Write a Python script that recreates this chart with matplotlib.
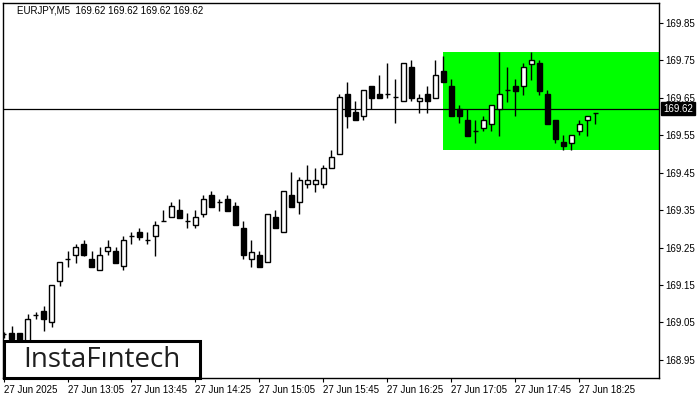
import numpy as np
import matplotlib
matplotlib.use("Agg")
import matplotlib.pyplot as plt
from matplotlib.patches import Rectangle

plt.rcParams['font.family'] = ['Liberation Sans', 'DejaVu Sans']

# EURJPY M5 candles, 27 Jun 2025 from 12:25
opens = [169.018, 169.022, 169.022, 168.998, 169.070, 169.081, 169.051, 169.160, 169.219, 169.230,
         169.260, 169.220, 169.190, 169.240, 169.241, 169.200, 169.281, 169.291, 169.270, 169.280,
         169.320, 169.331, 169.351, 169.320, 169.310, 169.339, 169.391, 169.371, 169.380, 169.360,
         169.302, 169.219, 169.229, 169.211, 169.331, 169.291, 169.390, 169.371, 169.419, 169.419,
         169.419, 169.462, 169.499, 169.660, 169.612, 169.600, 169.682, 169.661, 169.660, 169.651,
         169.641, 169.732, 169.641, 169.661, 169.650, 169.721, 169.682, 169.620, 169.591, 169.561,
         169.570, 169.581, 169.620, 169.670, 169.681, 169.681, 169.741, 169.742, 169.660, 169.590,
         169.531, 169.530, 169.561, 169.590, 169.610]
highs = [169.025, 169.041, 169.022, 169.073, 169.079, 169.093, 169.149, 169.211, 169.241, 169.259,
         169.270, 169.241, 169.252, 169.270, 169.252, 169.280, 169.291, 169.302, 169.291, 169.320,
         169.351, 169.372, 169.380, 169.341, 169.351, 169.391, 169.401, 169.380, 169.391, 169.371,
         169.320, 169.270, 169.241, 169.339, 169.351, 169.400, 169.452, 169.439, 169.470, 169.462,
         169.470, 169.511, 169.660, 169.692, 169.641, 169.670, 169.682, 169.711, 169.742, 169.700,
         169.742, 169.751, 169.661, 169.682, 169.751, 169.762, 169.700, 169.631, 169.620, 169.591,
         169.602, 169.630, 169.773, 169.732, 169.700, 169.742, 169.773, 169.751, 169.670, 169.590,
         169.550, 169.550, 169.590, 169.601, 169.610]
lows = [169.009, 169.001, 168.990, 168.993, 169.059, 169.027, 169.039, 169.148, 169.199, 169.210,
        169.228, 169.198, 169.190, 169.229, 169.210, 169.190, 169.259, 169.269, 169.259, 169.228,
        169.320, 169.331, 169.330, 169.301, 169.301, 169.331, 169.359, 169.349, 169.349, 169.310,
        169.219, 169.199, 169.199, 169.211, 169.302, 169.291, 169.359, 169.339, 169.410, 169.399,
        169.410, 169.462, 169.499, 169.570, 169.590, 169.590, 169.620, 169.650, 169.650, 169.582,
        169.641, 169.641, 169.610, 169.610, 169.650, 169.692, 169.600, 169.582, 169.549, 169.530,
        169.560, 169.560, 169.549, 169.640, 169.600, 169.658, 169.698, 169.658, 169.580, 169.530,
        169.511, 169.511, 169.550, 169.549, 169.580]
closes = [169.018, 169.006, 168.998, 169.059, 169.070, 169.058, 169.149, 169.211, 169.219, 169.251,
          169.229, 169.199, 169.230, 169.251, 169.210, 169.270, 169.281, 169.279, 169.270, 169.310,
          169.320, 169.360, 169.330, 169.320, 169.331, 169.380, 169.359, 169.371, 169.349, 169.310,
          169.230, 169.239, 169.199, 169.339, 169.302, 169.400, 169.359, 169.430, 169.430, 169.430,
          169.462, 169.491, 169.652, 169.600, 169.590, 169.670, 169.650, 169.650, 169.660, 169.651,
          169.742, 169.650, 169.650, 169.641, 169.711, 169.692, 169.600, 169.601, 169.549, 169.561,
          169.591, 169.630, 169.660, 169.670, 169.669, 169.732, 169.750, 169.669, 169.580, 169.539,
          169.520, 169.550, 169.581, 169.601, 169.610]

price_ticks = [168.95, 169.05, 169.15, 169.25, 169.35, 169.45, 169.55, 169.65, 169.75, 169.85]
time_labels = ["27 Jun 2025", "27 Jun 13:05", "27 Jun 13:45", "27 Jun 14:25", "27 Jun 15:05",
               "27 Jun 15:45", "27 Jun 16:25", "27 Jun 17:05", "27 Jun 17:45", "27 Jun 18:25"]
last_price = 169.62
zone_start = 55          # first candle of the rectangle
zone_low, zone_high = 169.511, 169.772

o = np.array(opens); h = np.array(highs); l = np.array(lows); c = np.array(closes)
idx = np.arange(len(o))

fig = plt.figure(figsize=(7, 4), dpi=100)
ax = fig.add_axes([0.004, 0.055, 0.937, 0.9375])

ax.set_xlim(-0.1, 81.96)
ax.set_ylim(168.9018, 169.903)

# green pattern zone
ax.add_patch(Rectangle((zone_start, zone_low), 100, zone_high - zone_low,
                       facecolor="#00ff00", edgecolor="none", zorder=1))
ax.axhline(last_price, color="black", lw=0.9, zorder=2)

# candles
ax.vlines(idx, l, h, color="black", lw=1.0, zorder=3)
up = c >= o
body_lo = np.minimum(o, c)
body_h = np.abs(c - o)
ax.bar(idx[up], body_h[up], bottom=body_lo[up], width=0.62,
       facecolor="white", edgecolor="black", linewidth=1.0, zorder=4)
ax.bar(idx[~up], body_h[~up], bottom=body_lo[~up], width=0.62,
       facecolor="black", edgecolor="black", linewidth=1.0, zorder=4)

# axes look
for s in ax.spines.values():
    s.set_linewidth(1.0)
ax.yaxis.tick_right()
ax.set_yticks(price_ticks)
ax.set_yticklabels([f"{p:.2f}" for p in price_ticks])
ax.set_xticks(np.arange(0, 80, 8))
ax.set_xticklabels(time_labels, ha="left")
ax.tick_params(axis="y", direction="out", length=3, width=0.8, labelsize=7, pad=2)
ax.tick_params(axis="x", direction="out", length=3, width=0.8, labelsize=7, pad=2)

# header
fig.text(0.024, 0.973, "EURJPY,M5  169.62 169.62 169.62 169.62", fontsize=7, va="center", ha="left")

# current price tag
fig.text(0.947, 1 - 108.5 / 400, "169.62", fontsize=7, color="white", va="center", ha="left",
         bbox=dict(boxstyle="square,pad=0.2", facecolor="black", edgecolor="black"))

# logo
logo = Rectangle((4 / 700, 22 / 400), 196 / 700, 37 / 400, transform=fig.transFigure,
                 facecolor="white", edgecolor="black", linewidth=2.2, zorder=10)
fig.patches.append(logo)
fig.text(102 / 700, 1 - 360 / 400, "InstaF\u0131ntech", fontsize=20, color="#1e1e1e",
         family="Open Sans", fontweight="medium", va="center", ha="center", zorder=11)

fig.savefig("out.png", dpi=100)
